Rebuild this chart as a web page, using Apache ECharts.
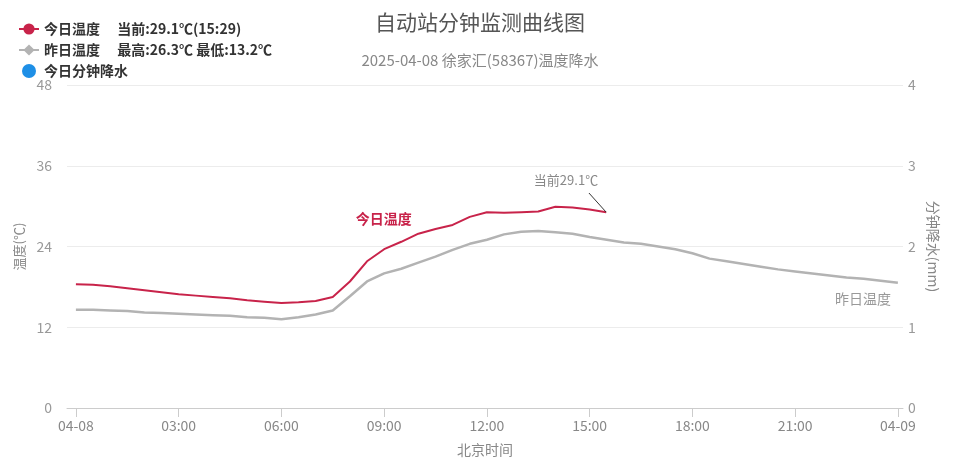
<!DOCTYPE html>
<html>
<head>
<meta charset="utf-8">
<script src="https://cdn.jsdelivr.net/npm/echarts@6/dist/echarts.min.js"></script>
<style>html,body{margin:0;padding:0;background:#fff}#c{width:960px;height:468px}</style>
</head>
<body>
<div id="c"></div>
<script>
// ---- data ----
const todayHours = [0,0.5,1,1.5,2,2.5,3,3.5,4,4.5,5,5.5,6,6.5,7,7.5,8,8.5,9,9.5,10,10.5,11,11.5,12,12.5,13,13.5,14,14.5,15,15.483];
const todayTemp  = [18.4,18.3,18.1,17.8,17.5,17.2,16.9,16.7,16.5,16.3,16.0,15.8,15.6,15.7,15.9,16.5,18.8,21.8,23.6,24.7,25.9,26.6,27.2,28.4,29.1,29.0,29.1,29.2,29.9,29.8,29.5,29.1];
const yestHours  = [0,0.5,1,1.5,2,2.5,3,3.5,4,4.5,5,5.5,6,6.5,7,7.5,8,8.5,9,9.5,10,10.5,11,11.5,12,12.5,13,13.5,14,14.5,15,15.5,16,16.5,17,17.5,18,18.5,19,19.5,20,20.5,21,21.5,22,22.5,23,23.5,24];
const yestTemp   = [14.6,14.6,14.5,14.4,14.2,14.1,14.0,13.9,13.8,13.7,13.5,13.4,13.2,13.5,13.9,14.5,16.6,18.8,20.0,20.7,21.6,22.5,23.5,24.4,25.0,25.8,26.2,26.3,26.1,25.9,25.4,25.0,24.6,24.4,24.0,23.6,23.0,22.2,21.8,21.4,21.0,20.6,20.3,20.0,19.7,19.4,19.2,18.9,18.6];
const precipHours = [];
const precipValues = [];
const xTicks = [0,3,6,9,12,15,18,21,24];

const RED = '#c8234a', GRAY = '#b3b3b3', BLUE = '#1e8fe6';
const pad = n => (n < 10 ? '0' : '') + n;
const lastT = todayHours[todayHours.length-1];
const lastV = todayTemp[todayTemp.length-1];
const lastTime = pad(Math.floor(lastT)) + ':' + pad(Math.round((lastT - Math.floor(lastT))*60));
const yMax = Math.max(...yestTemp), yMin = Math.min(...yestTemp);

const chart = echarts.init(document.getElementById('c'));
chart.setOption({
  animation: false,
  textStyle: {fontFamily: 'Noto Sans CJK SC'},
  title: [
    {text: '自动站分钟监测曲线图', left: 370, top: 7, textStyle: {fontSize: 21, fontWeight: 'normal', color: '#555'}},
    {text: '2025-04-08 徐家汇(58367)温度降水', left: 'center', top: 48, textStyle: {fontSize: 15, fontWeight: 'normal', color: '#888'}}
  ],
  legend: {
    orient: 'vertical', left: 13, top: 17, itemGap: 7, itemWidth: 20, itemHeight: 14,
    data: ['今日温度', '昨日温度', {name: '今日分钟降水', icon: 'circle'}],
    textStyle: {fontSize: 14, color: '#333', fontWeight: 'bold'},
    formatter: name => {
      if (name === '今日温度') return name + '\u3000 当前:' + lastV.toFixed(1) + '℃(' + lastTime + ')';
      if (name === '昨日温度') return name + '\u3000 最高:' + yMax.toFixed(1) + '℃ 最低:' + yMin.toFixed(1) + '℃';
      return name;
    }
  },
  grid: {left: 67, right: 57, top: 85, bottom: 60},
  xAxis: {
    type: 'value', min: -0.26, max: 24.15,
    name: '北京时间', nameLocation: 'middle', nameGap: 35,
    nameTextStyle: {color: '#888', fontSize: 14},
    axisLine: {lineStyle: {color: '#ccc'}},
    axisTick: {customValues: xTicks, length: 9, lineStyle: {color: '#ccc'}},
    axisLabel: {customValues: xTicks, color: '#888', fontSize: 14, margin: 11,
      formatter: v => v === 0 ? '04-08' : (v === 24 ? '04-09' : pad(v) + ':00')},
    splitLine: {show: false}
  },
  yAxis: [
    {type: 'value', min: 0, max: 48, interval: 12,
     name: '温度(℃)', nameLocation: 'middle', nameGap: 38,
     nameTextStyle: {color: '#888', fontSize: 13},
     axisLine: {show: false}, axisTick: {show: false},
     axisLabel: {color: '#999', fontSize: 14, margin: 15},
     splitLine: {lineStyle: {color: '#ececec'}}},
    {type: 'value', min: 0, max: 4, interval: 1, position: 'right',
     name: '分钟降水(mm)', nameLocation: 'middle', nameGap: 14, nameRotate: -90,
     nameTextStyle: {color: '#888', fontSize: 14},
     axisLine: {show: false}, axisTick: {show: false},
     axisLabel: {color: '#999', fontSize: 14, margin: 5},
     splitLine: {show: false}}
  ],
  series: [
    {name: '昨日温度', type: 'line', z: 2, showSymbol: false, symbol: 'diamond', symbolSize: 7,
     color: GRAY, lineStyle: {width: 2.5, color: GRAY},
     data: yestHours.map((h, i) => [h, yestTemp[i]]),
     markPoint: {silent: true, symbolSize: 0,
       data: [{coord: [22.98, 16.3], label: {show: true, formatter: '昨日温度', color: '#999', fontSize: 14}}]}
    },
    {name: '今日温度', type: 'line', z: 3, showSymbol: false, symbol: 'circle', symbolSize: 8,
     color: RED, lineStyle: {width: 2, color: RED},
     data: todayHours.map((h, i) => [h, todayTemp[i]]),
     markPoint: {silent: true, symbolSize: 0,
       data: [
         {coord: [8.99, 28.2], label: {show: true, formatter: '今日温度', color: RED, fontSize: 14, fontWeight: 'bold'}},
         {coord: [14.31, 33.9], label: {show: true, formatter: '当前' + lastV.toFixed(1) + '℃', color: '#888', fontSize: 13}}
       ]},
     markLine: {silent: true, symbol: ['none', 'none'], label: {show: false},
       lineStyle: {color: '#333', width: 1, type: 'solid'},
       data: [[{coord: [lastT, lastV]}, {coord: [14.98, 31.95]}]]}
    },
    {name: '今日分钟降水', type: 'bar', yAxisIndex: 1, color: BLUE,
     data: precipHours.map((h, i) => [h, precipValues[i]])}
  ]
});
</script>
</body>
</html>
